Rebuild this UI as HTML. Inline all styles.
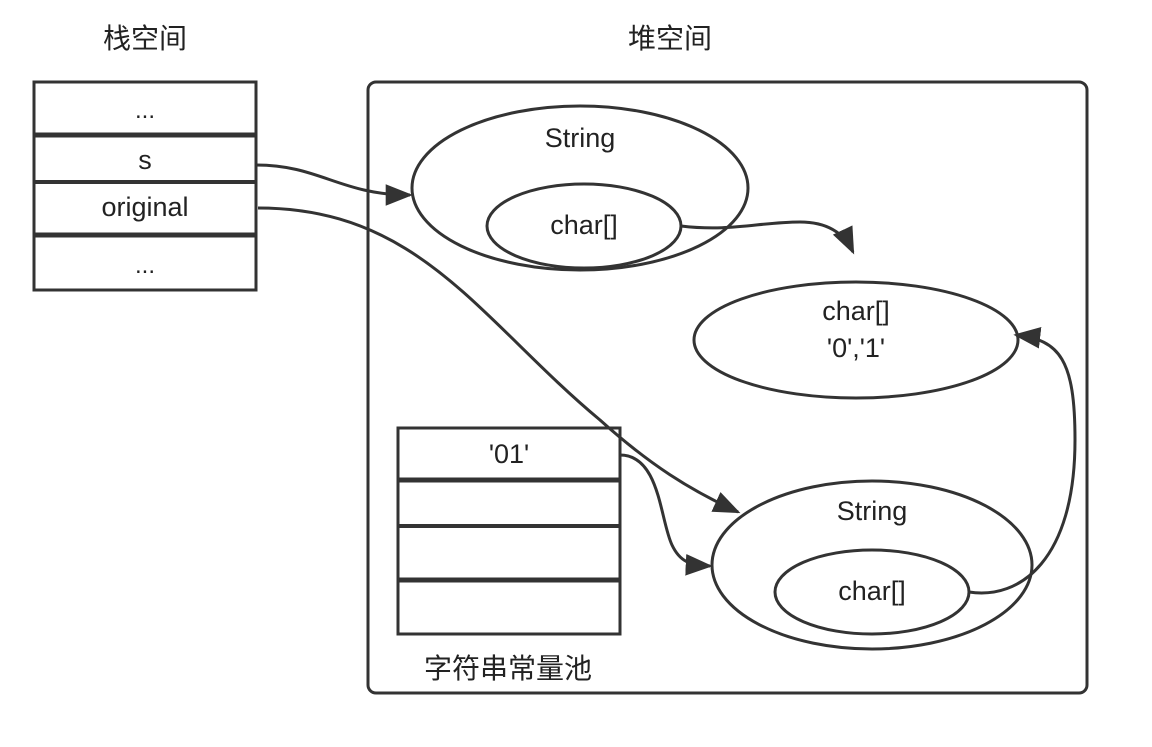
<!DOCTYPE html>
<html><head><meta charset="utf-8"><style>
html,body{margin:0;padding:0;background:#fff;}
text{font-family:"Liberation Sans","Noto Sans CJK SC",sans-serif;fill:#222;}
</style></head><body>
<svg width="1152" height="742" viewBox="0 0 1152 742" xmlns="http://www.w3.org/2000/svg">
<defs>
<marker id="b" viewBox="0 0 10 10" refX="9" refY="5" markerWidth="9" markerHeight="9" orient="auto" markerUnits="strokeWidth"><path d="M0,1L10,5L0,9z" fill="#333"/></marker></defs>
<text x="145" y="48" font-size="28" text-anchor="middle">栈空间</text>
<text x="670" y="48" font-size="28" text-anchor="middle">堆空间</text>
<g stroke="#333" fill="none" stroke-width="3">
<rect x="34" y="82" width="222" height="208"/>
<line x1="34" y1="135" x2="256" y2="135" stroke-width="5"/>
<line x1="34" y1="182" x2="256" y2="182" stroke-width="4"/>
<line x1="34" y1="235" x2="256" y2="235" stroke-width="5"/>
<rect x="368" y="82" width="719" height="611" rx="8"/>
<ellipse cx="580" cy="188" rx="168" ry="82"/>
<ellipse cx="584" cy="226" rx="97" ry="42"/>
<ellipse cx="856" cy="340" rx="162" ry="58"/>
<ellipse cx="872" cy="565" rx="160" ry="84"/>
<ellipse cx="872" cy="592" rx="97" ry="42"/>
<rect x="398" y="428" width="222" height="206"/>
<line x1="398" y1="480" x2="620" y2="480" stroke-width="5"/>
<line x1="398" y1="526" x2="620" y2="526" stroke-width="4"/>
<line x1="398" y1="580" x2="620" y2="580" stroke-width="5"/>
<path d="M256,165 C320,165 340,195 410,195" marker-end="url(#b)"/>
<path d="M258,208 C420,208 480,320 600,420 C650,465 690,490 738,512" marker-end="url(#b)"/>
<path d="M681,226 C730,232 760,222 800,222 C830,222 845,235 853,252" marker-end="url(#b)"/>
<path d="M620,455 C660,455 660,520 672,545 C680,562 690,565 710,566" marker-end="url(#b)"/>
<path d="M969,592 C1020,600 1075,560 1075,440 C1075,360 1060,340 1016,335" marker-end="url(#b)"/>
</g>
<text x="145" y="118" font-size="24" text-anchor="middle">...</text>
<text x="145" y="169" font-size="27" text-anchor="middle">s</text>
<text x="145" y="216" font-size="27" text-anchor="middle">original</text>
<text x="145" y="273" font-size="24" text-anchor="middle">...</text>
<text x="580" y="147" font-size="27" text-anchor="middle">String</text>
<text x="584" y="234" font-size="27" text-anchor="middle">char[]</text>
<text x="856" y="320" font-size="27" text-anchor="middle">char[]</text>
<text x="856" y="357" font-size="27" text-anchor="middle">'0','1'</text>
<text x="509" y="463" font-size="27" text-anchor="middle">'01'</text>
<text x="872" y="520" font-size="27" text-anchor="middle">String</text>
<text x="872" y="600" font-size="27" text-anchor="middle">char[]</text>
<text x="508" y="678" font-size="28" text-anchor="middle">字符串常量池</text>
</svg>
</body></html>
